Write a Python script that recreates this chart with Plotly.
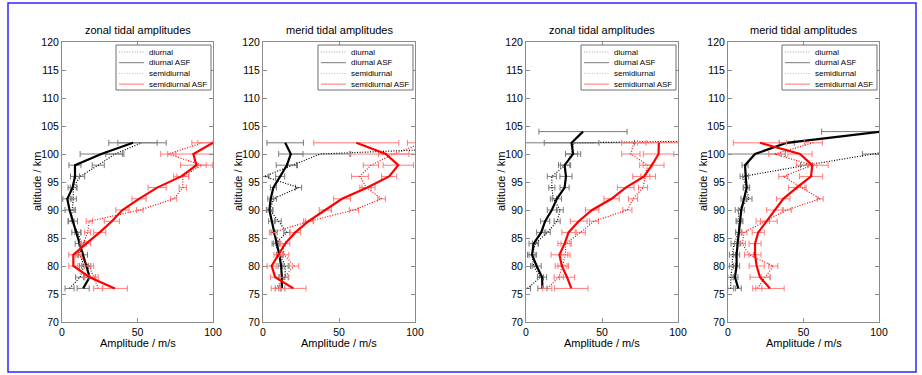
import plotly.graph_objects as go

# ---------------- data ----------------
alt_a = [76, 78, 80, 82, 84, 86, 88, 90, 92, 94, 96, 98, 100, 102]
alt_b = [76, 78, 80, 82, 84, 86, 88, 90, 92, 94, 96, 98, 100, 102, 104]

panel_titles = ["zonal tidal amplitudes", "merid tidal amplitudes",
                "zonal tidal amplitudes", "merid tidal amplitudes"]
series_names = ["diurnal", "diurnal ASF", "semidiurnal", "semidiurnal ASF"]
x_label = "Amplitude / m/s"
y_label = "altitude / km"

# panel 1 (zonal, left pair)
z1_di = [5, 12, 14.5, 12, 13, 10.5, 6, 7, 7.5, 7.5, 12, 24, 35, 53]
z1_di_err = [3, 3, 3, 2, 2, 2, 2, 2, 2, 2, 3, 4, 6, 16]
z1_diA = [14, 18.3, 16.1, 13.9, 11.7, 9.5, 7.3, 5, 3.5, 7, 8.6, 8.6, 26, 47]
z1_diA_err = [4, 4, 3, 3, 3, 3, 3, 3, 3, 3, 3, 4, 14, 16]
z1_se = [24, 21, 18, 11, 14, 17, 18, 51.5, 74, 80, 80, 92.5, 70.4, 93]
z1_se_err = [3, 3, 3, 2, 2, 2, 2, 2.2, 2, 2.4, 3.9, 3, 5, 7]
z1_seA = [35, 18.3, 7.5, 7.5, 16, 25, 33, 40, 51, 63, 79, 89, 87, 100]
z1_seA_err = [8.3, 3.6, 3, 3, 3, 4, 5, 4.4, 4.7, 6, 5, 10.5, 17, 10]

# panel 2 (merid, left pair)
m1_di = [10, 14.6, 14.6, 11.3, 8, 15.7, 10, 4.6, 6.8, 23.4, 1, 19, 37.7, 216]
m1_di_err = [2, 2, 2, 2, 2, 2, 2, 2, 2, 2, 3, 3, 20, 30]
m1_diA = [12.4, 12.4, 11.9, 10.8, 9, 7.3, 5.7, 4.2, 5.1, 6.8, 11.3, 15.7, 18.3, 14.6]
m1_diA_err = [2, 2, 2, 2, 2, 2, 2, 2, 2, 2, 3, 7, 8, 12]
m1_se = [8.4, 14, 20.5, 14, 12.8, 6.2, 30.5, 59.8, 78, 68.2, 63.8, 71, 86, 105]
m1_se_err = [3, 3, 3, 3, 2, 2, 2.5, 3, 2.5, 3, 5.5, 5, 10, 10]
m1_seA = [20, 8, 5.7, 10.2, 14.6, 21.2, 30, 41, 52, 68.7, 83, 89, 80.8, 61.4]
m1_seA_err = [8.3, 3, 3, 3, 3, 3.5, 3.3, 4, 5.5, 5, 5, 10, 24, 28]

# panel 3 (zonal, right pair)
z2_di = [1, 9.5, 5, 4, 6.2, 14, 20.5, 22.5, 18, 17, 17, 25.8, 30, 31.3, 600]
z2_di_err = [2, 2, 2, 2, 2, 2, 2, 2, 2, 2, 3, 3, 4, 40, 40]
z2_diA = [10.8, 10.6, 7, 4, 5, 10, 12.6, 17, 20.3, 25.4, 26.3, 25.4, 31, 30, 37.5]
z2_diA_err = [3, 3, 3, 3, 3, 3, 3, 3, 3, 3, 4, 4, 5, 18, 29]
z2_se = [14, 21.5, 24, 26, 26, 36, 44.7, 66.7, 70.4, 77, 78.5, 80, 69, 71, 600]
z2_se_err = [3, 3, 3, 3, 3, 3, 3, 3, 3, 3, 3, 3, 6, 8, 0]
z2_seA = [29.8, 27, 23.6, 22, 25.4, 28, 34.7, 43.5, 56.3, 65.6, 77.7, 82.8, 87.2, 87.4, None]
z2_seA_err = [11, 5, 4.4, 5.5, 4.4, 4.4, 5.5, 4.4, 5, 5.5, 7.5, 8, 10, 14, 0]

# panel 4 (merid, right pair)
m2_di = [1.8, 1.8, 2.9, 2.9, 4, 7.1, 7.3, 6.8, 13.9, 12, 10, 52, 95, 140, None]
m2_di_err = [2, 2, 2, 2, 2, 2, 2, 2, 2, 2, 2, 4, 6, 0, 0]
m2_diA = [6.8, 4.6, 5.7, 5.7, 6.4, 7.1, 7.9, 8.8, 10.6, 12.4, 11.7, 11.3, 17.9, 38.9, 101]
m2_diA_err = [2, 2, 2, 2, 2, 2, 2, 2, 2, 2, 2, 2, 20, 5, 39]
m2_se = [19.4, 25, 30, 13.9, 9.5, 10.6, 24.5, 38.9, 61, 48.8, 36.6, 55.8, 31, 56.5, None]
m2_se_err = [3, 3, 3, 3, 2, 2, 3, 3, 2, 3, 3, 3, 4, 6, 0]
m2_seA = [27.8, 21.2, 19, 17.9, 17.9, 20, 25.6, 31.1, 36.6, 45.5, 55, 55.8, 47.7, 21.2, None]
m2_seA_err = [9.4, 6.6, 5, 4, 4, 4, 7, 5.5, 4.4, 5.5, 7.7, 10.5, 8, 17.7, 0]

x_ticks = [0, 50, 100]
y_ticks = [70, 75, 80, 85, 90, 95, 100, 105, 110, 115, 120]

panels = [
    (alt_a, [(z1_di, z1_di_err), (z1_diA, z1_diA_err), (z1_se, z1_se_err), (z1_seA, z1_seA_err)]),
    (alt_a, [(m1_di, m1_di_err), (m1_diA, m1_diA_err), (m1_se, m1_se_err), (m1_seA, m1_seA_err)]),
    (alt_b, [(z2_di, z2_di_err), (z2_diA, z2_diA_err), (z2_se, z2_se_err), (z2_seA, z2_seA_err)]),
    (alt_b, [(m2_di, m2_di_err), (m2_diA, m2_diA_err), (m2_se, m2_se_err), (m2_seA, m2_seA_err)]),
]

# ---------------- style ----------------
W, H = 922, 375
FONT = "Liberation Sans, Arial, Helvetica, sans-serif"
x_px = [(62, 213), (263, 415), (526, 678), (728, 879)]
y_px = (42, 322)
DOT = "1px,1.6px"
styles = [
    dict(color="#000000", dash=DOT, width=1.2, ecolor="#7a7a7a"),
    dict(color="#000000", dash="solid", width=2.2, ecolor="#7a7a7a"),
    dict(color="#ff0000", dash=DOT, width=1.2, ecolor="#ff7a7a"),
    dict(color="#ff0000", dash="solid", width=2.2, ecolor="#ff7a7a"),
]
# legend sample styles (pale, thin as in the original figure legend)
leg_styles = [
    dict(color="#a8a8a8", dash=DOT, width=1),
    dict(color="#7c7c7c", dash="solid", width=1),
    dict(color="#ffa0a0", dash=DOT, width=1),
    dict(color="#ff7070", dash="solid", width=1),
]

fig = go.Figure()
layout = dict(
    width=W, height=H,
    margin=dict(l=0, r=0, t=0, b=0, autoexpand=False),
    paper_bgcolor="white", plot_bgcolor="white",
    font=dict(family=FONT, size=11, color="black"),
    showlegend=False, hovermode=False,
    annotations=[], shapes=[],
)

y0 = 1 - y_px[1] / H
y1 = 1 - y_px[0] / H

for i, (alt, ser) in enumerate(panels):
    sfx = "" if i == 0 else str(i + 1)
    for name, (vals, err), st in zip(series_names, ser, styles):
        fig.add_trace(go.Scatter(
            x=vals, y=alt, mode="lines", name=name,
            line=dict(color=st["color"], dash=st["dash"], width=st["width"]),
            error_x=dict(type="data", array=err, color=st["ecolor"], thickness=1, width=3),
            xaxis="x" + sfx, yaxis="y" + sfx, showlegend=False,
        ))
    xd = [x_px[i][0] / W, x_px[i][1] / W]
    axcommon = dict(showgrid=False, zeroline=False, showline=True, linecolor="#8c8c8c",
                    linewidth=1, mirror="ticks", ticks="inside", ticklen=4,
                    tickcolor="#8c8c8c", tickfont=dict(size=10.5, family=FONT),
                    automargin=False)
    layout["xaxis" + sfx] = dict(domain=xd, range=[0, 100], tickvals=x_ticks,
                                 anchor="y" + sfx, **axcommon)
    layout["yaxis" + sfx] = dict(domain=[y0, y1], range=[70, 120], tickvals=y_ticks,
                                 anchor="x" + sfx, **axcommon)
    xc = (xd[0] + xd[1]) / 2
    layout["annotations"].append(dict(
        text=panel_titles[i], x=xc, y=1 - 30 / H,
        xref="paper", yref="paper", xanchor="center", yanchor="middle",
        showarrow=False, font=dict(size=11, family=FONT)))
    layout["annotations"].append(dict(
        text=x_label, x=xc, y=1 - 343 / H,
        xref="paper", yref="paper", xanchor="center", yanchor="middle",
        showarrow=False, font=dict(size=11, family=FONT)))
    layout["annotations"].append(dict(
        text=y_label, x=(x_px[i][0] - 25) / W, y=(y0 + y1) / 2, textangle=-90,
        xref="paper", yref="paper", xanchor="center", yanchor="middle",
        showarrow=False, font=dict(size=11, family=FONT)))

    # legend box (drawn like the original in-axes legend)
    bx0, bx1 = x_px[i][1] - 97, x_px[i][1] - 2
    by0, by1 = y_px[0] + 3, y_px[0] + 48
    layout["shapes"].append(dict(type="rect", xref="paper", yref="paper",
                                 x0=bx0 / W, x1=bx1 / W, y0=1 - by1 / H, y1=1 - by0 / H,
                                 line=dict(color="#6e6e6e", width=1), fillcolor="white",
                                 layer="above"))
    for k, (name, ls) in enumerate(zip(series_names, leg_styles)):
        ry = by0 + 7 + k * 10.7
        layout["shapes"].append(dict(type="line", xref="paper", yref="paper",
                                     x0=(bx0 + 3) / W, x1=(bx0 + 28) / W,
                                     y0=1 - ry / H, y1=1 - ry / H,
                                     line=dict(color=ls["color"], dash=ls["dash"], width=ls["width"]),
                                     layer="above"))
        layout["annotations"].append(dict(
            text=name, x=(bx0 + 31) / W, y=1 - ry / H, xref="paper", yref="paper",
            xanchor="left", yanchor="middle", showarrow=False,
            font=dict(size=8, family=FONT)))

layout["shapes"].append(dict(type="rect", xref="paper", yref="paper",
                             x0=8 / W, x1=916 / W, y0=1 - 372 / H, y1=1 - 3 / H,
                             line=dict(color="#2a2aff", width=1.5)))

fig.update_layout(**layout)
fig.write_html("out.html", config={"displayModeBar": False, "staticPlot": True},
               post_script="document.body.style.margin='0';document.body.style.padding='0';")
